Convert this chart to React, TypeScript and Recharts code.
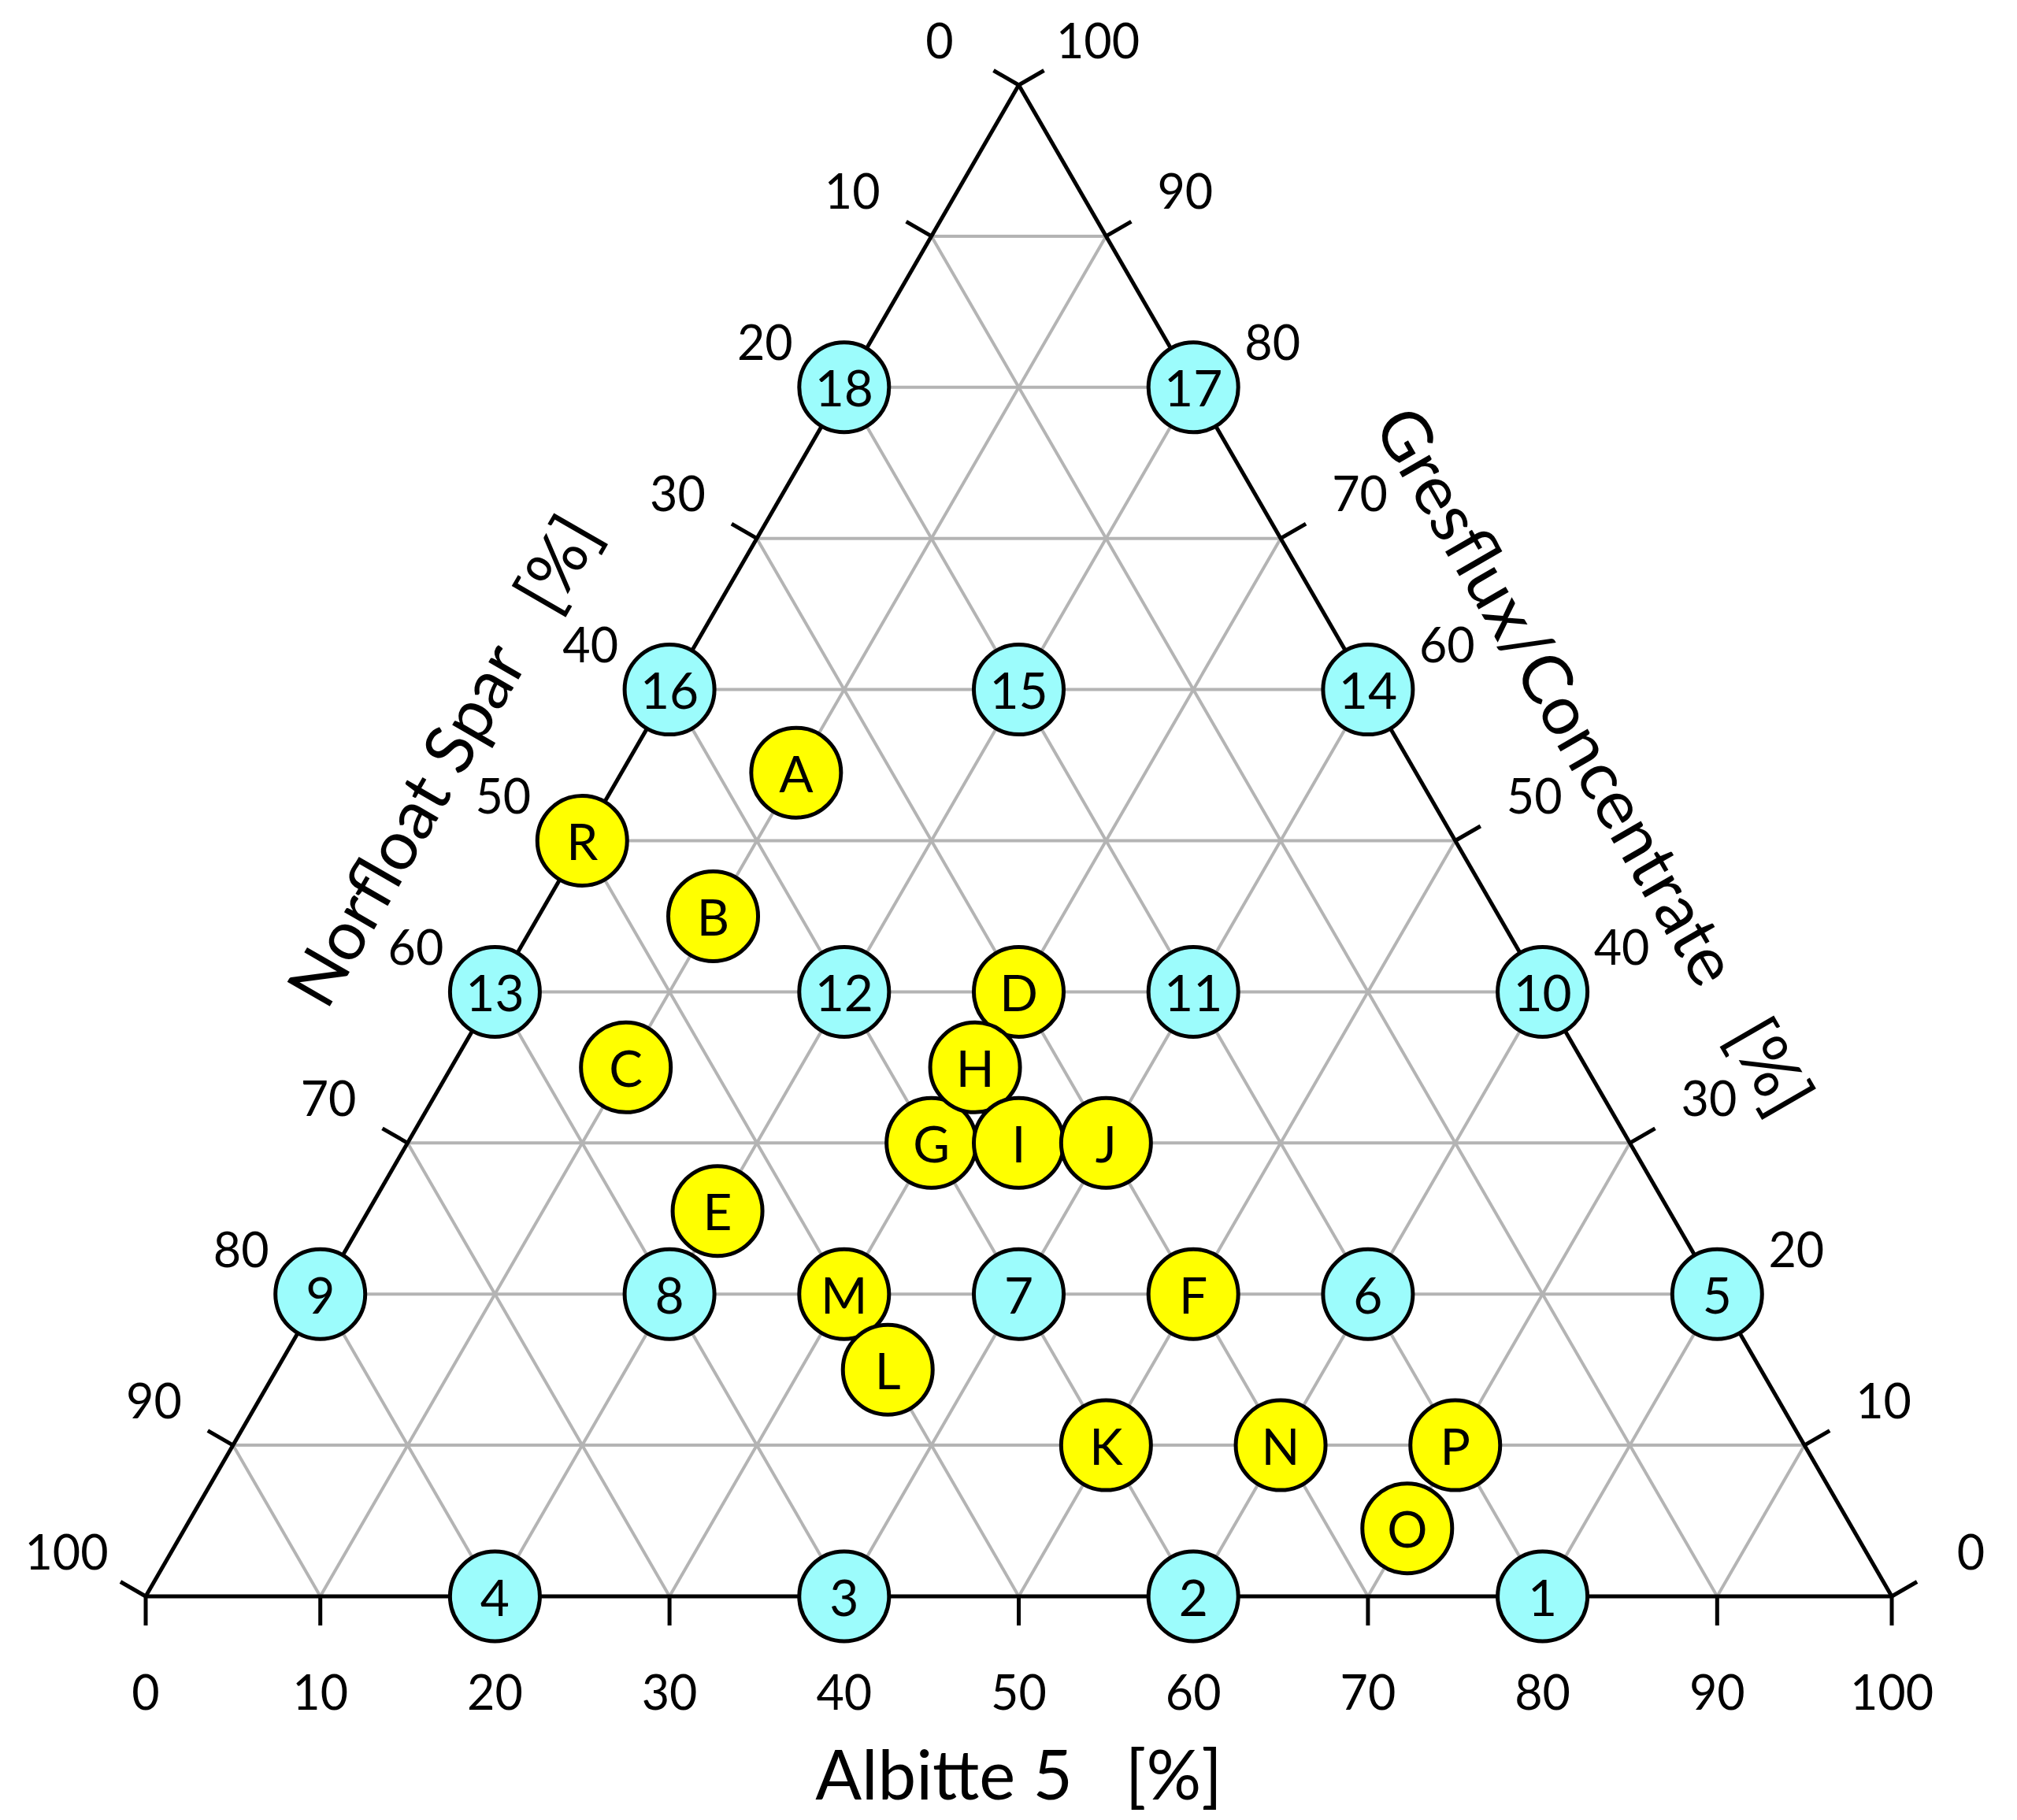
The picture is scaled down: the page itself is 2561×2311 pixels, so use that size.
import React from "react";
import { ScatterChart, Scatter, XAxis, YAxis, ReferenceLine, ReferenceDot } from "recharts";

// axis ticks (every 10 %) and interior grid steps
const ticks = [0, 10, 20, 30, 40, 50, 60, 70, 80, 90, 100];
const gridSteps = [10, 20, 30, 40, 50, 60, 70, 80, 90];

// reference mixtures (cyan, numbered)
const refLabels = ["1", "2", "3", "4", "5", "6", "7", "8", "9", "10", "11", "12", "13", "14", "15", "16", "17", "18"];
const refAlbitte = [80, 60, 40, 20, 80, 60, 40, 20, 0, 60, 40, 20, 0, 40, 20, 0, 20, 0];
const refNorfloat = [20, 40, 60, 80, 0, 20, 40, 60, 80, 0, 20, 40, 60, 0, 20, 40, 0, 20];
const refGresflux = [0, 0, 0, 0, 20, 20, 20, 20, 20, 40, 40, 40, 40, 60, 60, 60, 80, 80];

// sample mixtures (yellow, lettered)
const sampleLabels = ["A", "B", "C", "D", "E", "F", "G", "H", "I", "J", "K", "M", "L", "N", "P", "O", "R"];
const sampleAlbitte = [10, 10, 10, 30, 20, 50, 30, 30, 35, 40, 50, 30, 35, 60, 70, 70, 0];
const sampleNorfloat = [35.5, 45, 55, 30, 54.5, 30, 40, 35, 35, 30, 40, 50, 50, 30, 20, 25.5, 50];
const sampleGresflux = [54.5, 45, 35, 40, 25.5, 20, 30, 35, 30, 30, 10, 20, 15, 10, 10, 4.5, 50];

const FONT = "Lato, 'Open Sans', sans-serif";
const GRID = "#b4b4b4";
const SIN60 = Math.sqrt(3) / 2;

// ternary -> cartesian (x along Albitte edge, y = Gresflux height)
const toXY = (albitte: number, gresflux: number) => ({ x: albitte + gresflux / 2, y: gresflux });

const refData = refLabels.map((label, i) => ({ label, n: refNorfloat[i], ...toXY(refAlbitte[i], refGresflux[i]) }));
const sampleData = sampleLabels.map((label, i) => ({ label, n: sampleNorfloat[i], ...toXY(sampleAlbitte[i], sampleGresflux[i]) }));

const bubble = (fill: string) => (props: any) => {
  const { cx, cy, payload } = props;
  return (
    <g>
      <circle cx={cx} cy={cy} r={57} fill={fill} stroke="#000" strokeWidth={5} />
      <text x={cx} y={cy} textAnchor="middle" dominantBaseline="central" fontSize={64} fontFamily={FONT} fill="#000">
        {payload.label}
      </text>
    </g>
  );
};

// tick mark + label drawn in pixel space from an edge point
const tickShape = (label: string, dx: number, dy: number, dist: number) => (p: any) => (
  <g>
    <line x1={p.cx} y1={p.cy} x2={p.cx + dx * 37} y2={p.cy + dy * 37} stroke="#000" strokeWidth={5} />
    <text x={p.cx + dx * dist} y={p.cy + dy * dist} textAnchor="middle" dominantBaseline="central" fontSize={61} fontFamily={FONT} fill="#000">
      {label}
    </text>
  </g>
);

const titleShape = (label: string, dx: number, dy: number, angle: number) => (p: any) => {
  const x = p.cx + dx;
  const y = p.cy + dy;
  return (
    <text x={x} y={y} transform={`rotate(${angle} ${x} ${y})`} textAnchor="middle" dominantBaseline="central" fontSize={87} fontFamily={FONT} fill="#000" style={{ whiteSpace: "pre" }}>
      {label}
    </text>
  );
};

const seg = (a1: number, g1: number, a2: number, g2: number) => [toXY(a1, g1), toXY(a2, g2)];

const App: React.FC = () => {
  return (
    <div style={{ position: "absolute", left: 0, top: 0, width: 2561, height: 2311, background: "#fff" }}>
      <ScatterChart width={2561} height={2311} margin={{ top: 108, right: 159, bottom: 284, left: 185 }}>
        <XAxis type="number" dataKey="x" domain={[0, 100]} hide />
        <YAxis type="number" dataKey="y" domain={[0, 100]} hide />

        {/* grid: constant Gresflux, constant Albitte, constant Norfloat */}
        {gridSteps.map((k) => (
          <ReferenceLine key={`g${k}`} segment={seg(0, k, 100 - k, k)} stroke={GRID} strokeWidth={4} ifOverflow="visible" zIndex={-60} />
        ))}
        {gridSteps.map((k) => (
          <ReferenceLine key={`a${k}`} segment={seg(k, 0, k, 100 - k)} stroke={GRID} strokeWidth={4} ifOverflow="visible" zIndex={-60} />
        ))}
        {gridSteps.map((k) => (
          <ReferenceLine key={`n${k}`} segment={seg(100 - k, 0, 0, 100 - k)} stroke={GRID} strokeWidth={4} ifOverflow="visible" zIndex={-60} />
        ))}

        {/* triangle edges */}
        <ReferenceLine segment={seg(0, 0, 100, 0)} stroke="#000" strokeWidth={5} ifOverflow="visible" zIndex={-50} />
        <ReferenceLine segment={seg(0, 0, 0, 100)} stroke="#000" strokeWidth={5} ifOverflow="visible" zIndex={-50} />
        <ReferenceLine segment={seg(100, 0, 0, 100)} stroke="#000" strokeWidth={5} ifOverflow="visible" zIndex={-50} />

        {/* Albitte 5 ticks (bottom) */}
        {ticks.map((t) => (
          <ReferenceDot key={`bt${t}`} {...toXY(t, 0)} r={0} ifOverflow="visible" shape={tickShape(String(t), 0, 1, 120)} />
        ))}
        {/* Norfloat Spar ticks (left) */}
        {ticks.map((t) => (
          <ReferenceDot key={`lt${t}`} {...toXY(0, 100 - t)} r={0} ifOverflow="visible" shape={tickShape(String(t), -SIN60, -0.5, 116)} />
        ))}
        {/* Gresflux/Concentrate ticks (right) */}
        {ticks.map((t) => (
          <ReferenceDot key={`rt${t}`} {...toXY(100 - t, t)} r={0} ifOverflow="visible" shape={tickShape(String(t), SIN60, -0.5, 116)} />
        ))}

        {/* axis titles */}
        <ReferenceDot {...toXY(50, 0)} r={0} ifOverflow="visible" shape={titleShape("Albitte 5   [%]", 0, 224, 0)} />
        <ReferenceDot {...toXY(0, 50)} r={0} ifOverflow="visible" shape={titleShape("Norfloat Spar   [%]", -206 * SIN60, -103, -60)} />
        <ReferenceDot {...toXY(50, 50)} r={0} ifOverflow="visible" shape={titleShape("Gresflux/Concentrate   [%]", 206 * SIN60, -103, 60)} />

        <Scatter name="Reference" data={refData} shape={bubble("#9cfcfc")} isAnimationActive={false} />
        <Scatter name="Samples" data={sampleData} shape={bubble("#ffff00")} isAnimationActive={false} />
      </ScatterChart>
    </div>
  );
};

export default App;
